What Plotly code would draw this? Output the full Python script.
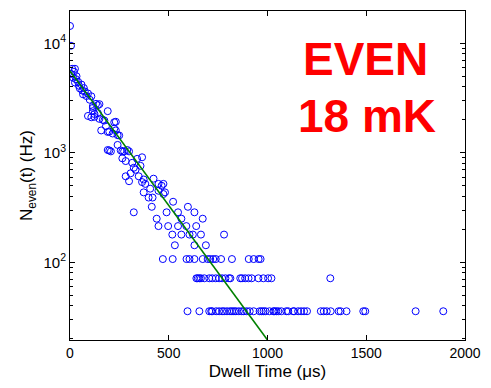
import plotly.graph_objects as go

# ---- data ----
# continuous-looking high-rate points: dwell time (us), rate (Hz)
high_t = [0, 5, 5, 11, 16, 20, 25, 25, 30, 33, 41, 45, 50, 58, 62, 66, 70, 75, 83, 91, 91,
          100, 108, 108, 116, 116, 116, 124, 124, 132, 141, 141, 149, 149, 158, 166, 174, 182,
          191, 191, 191, 199, 199, 207, 216, 224, 224, 232, 232, 241, 241, 249, 257, 265, 265,
          274, 282, 282, 290, 299, 299, 307, 315, 323, 332, 340, 348, 357, 365, 365, 373, 373,
          381, 398, 406, 418, 423, 448, 448, 464, 473, 473, 481]
high_n = [14400, 9500, 5250, 5850, 4850, 5500, 5850, 4380, 4700, 5000, 4450, 4100, 3870, 4200,
          3700, 3420, 3900, 3630, 3300, 3480, 2170, 3050, 3280, 2110, 2670, 2400, 2570, 2130,
          2260, 2800, 2720, 2300, 2040, 2780, 1600, 2000, 1970, 1750, 2400, 1550, 1060, 1560,
          1050, 1030, 1500, 1660, 1900, 1920, 1600, 1450, 1180, 1440, 1050, 1030, 890, 1030,
          840, 610, 1060, 1030, 550, 650, 810, 730, 700, 880, 610, 760, 910, 540, 570, 435,
          520, 390, 470, 390, 580, 520, 450, 500, 520, 420, 435]

# quantised low-rate rows (one count per bin = ~35.7 Hz)
level_rates = [357, 321, 286, 250, 214, 179, 143, 107, 71.4, 35.7]
level_times = [
    [522],
    [414, 597],
    [323, 489, 547, 630],
    [439, 564, 672],
    [448, 497, 547, 589, 639],
    [518, 564, 605, 622, 663, 780],
    [531, 630, 688],
    [470, 520, 590, 605, 630, 672, 697, 710, 725, 738, 765, 820, 905, 930, 955, 965],
    [640, 647, 655, 663, 680, 705, 720, 738, 755, 770, 787, 805, 812, 862, 871, 887, 904,
     920, 954, 979, 1003, 1020, 1318],
    [595, 655, 705, 715, 720, 740, 755, 770, 780, 795, 810, 820, 830, 840, 855, 870, 880,
     895, 910, 930, 960, 970, 980, 990, 1010, 1030, 1035, 1045, 1055, 1070, 1095, 1105,
     1130, 1135, 1155, 1170, 1185, 1200, 1270, 1285, 1300, 1320, 1360, 1370, 1400, 1485,
     1495, 1750, 1890],
]

# exponential fit (straight on log axis): endpoints
fit_t = [0, 1000]
fit_n = [5600, 19.5]

x_ticks = [0, 500, 1000, 1500, 2000]
y_ticks = [100, 1000, 10000]
y_tick_text = ["10<sup>2</sup>", "10<sup>3</sup>", "10<sup>4</sup>"]

# ---- build ----
all_t = list(high_t)
all_n = list(high_n)
for rate, times in zip(level_rates, level_times):
    all_t += times
    all_n += [rate] * len(times)

minor_vals = [m * 10 ** d for d in range(1, 5) for m in range(2, 10)]

font_family = "Liberation Sans, Arial, sans-serif"

fig = go.Figure()
fig.add_trace(go.Scatter(
    x=all_t, y=all_n, mode="markers",
    marker=dict(symbol="circle-open", size=7, color="#0000ff", line=dict(width=1, color="#0000ff")),
    showlegend=False, cliponaxis=True,
))
fig.add_trace(go.Scatter(
    x=fit_t, y=fit_n, mode="lines",
    line=dict(color="#008000", width=1.6),
    showlegend=False,
))

fig.add_annotation(x=0.747, y=0.855, xref="paper", yref="paper", text="<b>EVEN</b>",
                   showarrow=False, font=dict(family=font_family, size=46, color="#ff0000"),
                   xanchor="center", yanchor="middle")
fig.add_annotation(x=0.752, y=0.68, xref="paper", yref="paper", text="<b>18 mK</b>",
                   showarrow=False, font=dict(family=font_family, size=46, color="#ff0000"),
                   xanchor="center", yanchor="middle")

fig.update_layout(
    width=491, height=388,
    margin=dict(l=70, r=19, t=10, b=43),
    paper_bgcolor="white", plot_bgcolor="white",
    font=dict(family=font_family, size=14, color="black"),
    xaxis=dict(
        range=[0, 2000], tickvals=x_ticks, ticks="inside", ticklen=5, tickcolor="black",
        showline=True, linecolor="black", linewidth=1, mirror="ticks", showgrid=False,
        zeroline=False, title=dict(text="Dwell Time (\u03bcs)", standoff=5),
        tickfont=dict(size=14),
    ),
    yaxis=dict(
        type="log", range=[1.29, 4.295], tickvals=y_ticks, ticktext=y_tick_text,
        ticks="inside", ticklen=5, tickcolor="black",
        showline=True, linecolor="black", linewidth=1, mirror="ticks", showgrid=False,
        zeroline=False, title=dict(text="N<sub>even</sub>(t) (Hz)", standoff=6),
        tickfont=dict(size=15),
        minor=dict(tickvals=minor_vals, ticks="inside", ticklen=3, tickcolor="black", showgrid=False),
    ),
)

fig.write_html("out.html")
